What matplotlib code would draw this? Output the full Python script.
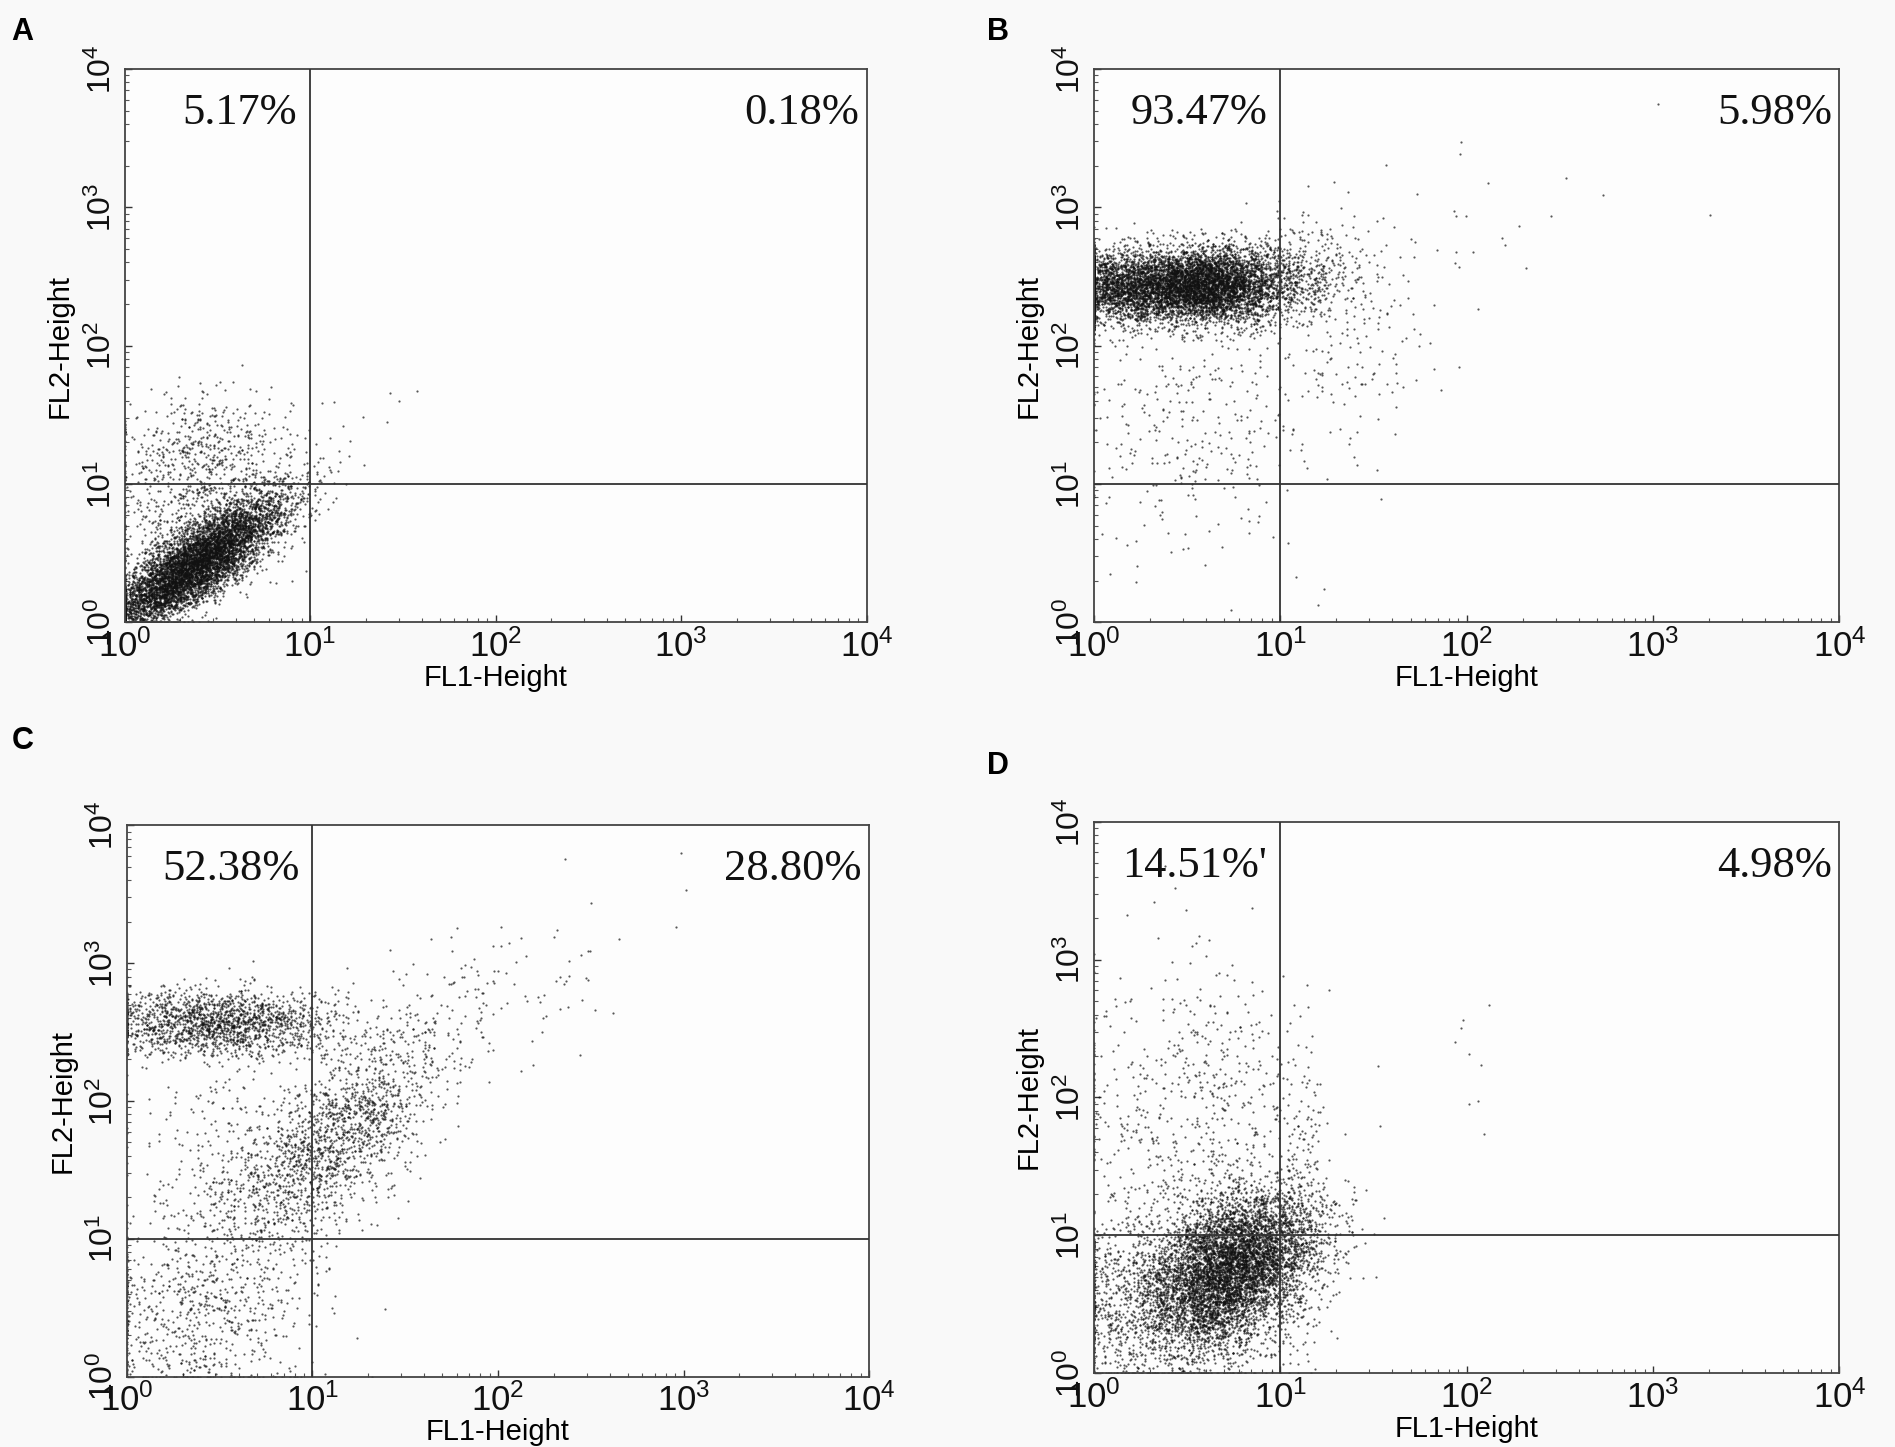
import matplotlib
matplotlib.use('Agg')
import matplotlib.pyplot as plt
import numpy as np

plt.rcParams['font.family'] = ['Liberation Sans', 'DejaVu Sans']
plt.rcParams['mathtext.fontset'] = 'custom'
plt.rcParams['mathtext.rm'] = 'Liberation Sans'
plt.rcParams['mathtext.it'] = 'Liberation Sans'

# quadrant percentages (upper-left, upper-right) per panel
panels = ['A', 'B', 'C', 'D']
ul_pct = ['5.17%', '93.47%', '52.38%', "14.51%'"]
ur_pct = ['0.18%', '5.98%', '28.80%', '4.98%']
gate_x = 10
gate_y = 10
tick_vals = [1, 10, 100, 1000, 10000]
tick_labels = ['$10^0$', '$10^1$', '$10^2$', '$10^3$', '$10^4$']

# event populations, in log10 units:
# count, mean log FL1, mean log FL2, sd log FL1, sd log FL2, correlation
pop_A_n = [6500, 450, 450, 12]
pop_A_mx = [0.38, 0.45, 0.35, 1.25]
pop_A_my = [0.42, 1.25, 0.80, 1.40]
pop_A_sx = [0.24, 0.25, 0.25, 0.20]
pop_A_sy = [0.25, 0.22, 0.30, 0.30]
pop_A_r = [0.82, 0.0, 0.0, 0.7]

pop_B_n = [5000, 2500, 400, 300, 150, 12]
pop_B_mx = [0.30, 0.65, 1.12, 0.55, 1.45, 2.30]
pop_B_my = [2.42, 2.45, 2.50, 1.40, 2.10, 3.00]
pop_B_sx = [0.35, 0.20, 0.18, 0.30, 0.30, 0.40]
pop_B_sy = [0.13, 0.14, 0.20, 0.45, 0.45, 0.25]
pop_B_r = [0.0, 0.0, 0.0, 0.0, 0.2, 0.0]

pop_C_n = [1700, 1500, 700, 500, 120]
pop_C_mx = [0.50, 1.15, 0.35, 0.65, 1.80]
pop_C_my = [2.57, 1.75, 0.45, 1.40, 2.65]
pop_C_sx = [0.32, 0.28, 0.30, 0.30, 0.45]
pop_C_sy = [0.12, 0.40, 0.35, 0.45, 0.40]
pop_C_r = [0.0, 0.7, 0.0, 0.0, 0.5]

pop_D_n = [5500, 1800, 600, 150, 10]
pop_D_mx = [0.76, 0.40, 0.55, 1.10, 1.80]
pop_D_my = [0.78, 0.50, 1.90, 1.40, 2.30]
pop_D_sx = [0.22, 0.30, 0.30, 0.10, 0.30]
pop_D_sy = [0.26, 0.33, 0.55, 0.55, 0.30]
pop_D_r = [0.3, 0.0, 0.0, 0.0, 0.0]

pops = {
    'A': (pop_A_n, pop_A_mx, pop_A_my, pop_A_sx, pop_A_sy, pop_A_r),
    'B': (pop_B_n, pop_B_mx, pop_B_my, pop_B_sx, pop_B_sy, pop_B_r),
    'C': (pop_C_n, pop_C_mx, pop_C_my, pop_C_sx, pop_C_sy, pop_C_r),
    'D': (pop_D_n, pop_D_mx, pop_D_my, pop_D_sx, pop_D_sy, pop_D_r),
}

# axes rectangles (figure fractions)
rects = {
    'A': [0.0657, 0.5699, 0.3916, 0.3825],
    'B': [0.5772, 0.5699, 0.3935, 0.3825],
    'C': [0.0670, 0.0487, 0.3916, 0.3809],
    'D': [0.5772, 0.0511, 0.3935, 0.3809],
}
letter_pos = {'A': (0.006, 0.988), 'B': (0.521, 0.988),
              'C': (0.006, 0.498), 'D': (0.521, 0.481)}

rng = np.random.default_rng(7)


def events(spec):
    n, mx, my, sx, sy, r = spec
    xs, ys = [], []
    for i in range(len(n)):
        cov = [[sx[i] ** 2, r[i] * sx[i] * sy[i]],
               [r[i] * sx[i] * sy[i], sy[i] ** 2]]
        p = rng.multivariate_normal([mx[i], my[i]], cov, n[i])
        xs.append(p[:, 0])
        ys.append(p[:, 1])
    lx = np.clip(np.concatenate(xs), 0, 4)
    ly = np.clip(np.concatenate(ys), 0, 4)
    return 10 ** lx, 10 ** ly


fig = plt.figure(figsize=(18.95, 14.47), dpi=100, facecolor='#f9f9f9')

for k, name in enumerate(panels):
    ax = fig.add_axes(rects[name])
    ax.set_facecolor('#fdfdfd')
    x, y = events(pops[name])
    ax.scatter(x, y, s=2.5, c='#111111', alpha=0.7, linewidths=0, zorder=2)

    ax.set_xscale('log')
    ax.set_yscale('log')
    ax.set_xlim(1, 10000)
    ax.set_ylim(1, 10000)

    # quadrant gates
    ax.axvline(gate_x, color='#333333', lw=1.3, zorder=3)
    ax.axhline(gate_y, color='#333333', lw=1.3, zorder=3)

    ax.set_xticks(tick_vals)
    ax.set_xticklabels(tick_labels, fontsize=25)
    ax.set_yticks(tick_vals)
    ax.set_yticklabels(tick_labels, fontsize=23, rotation=90, va='center')
    ax.tick_params(axis='both', which='major', direction='in', length=5,
                   width=1, colors='#333333', labelcolor='#111111')
    ax.tick_params(axis='x', which='major', pad=5)
    ax.tick_params(axis='y', which='major', pad=5)
    ax.tick_params(axis='both', which='minor', direction='in', length=3,
                   width=0.8, colors='#555555')
    for sp in ax.spines.values():
        sp.set_color('#444444')
        sp.set_linewidth(1.3)

    ax.set_xlabel('FL1-Height', fontsize=21, labelpad=0)
    ax.set_ylabel('FL2-Height', fontsize=21, labelpad=9)

    tr = ax.get_xaxis_transform()
    ax.text(10 ** 0.93, 0.90, ul_pct[k], transform=tr, ha='right',
            va='baseline', fontsize=32, family='Liberation Serif',
            color='#111111', zorder=4)
    ax.text(10 ** 3.96, 0.90, ur_pct[k], transform=tr, ha='right',
            va='baseline', fontsize=32, family='Liberation Serif',
            color='#111111', zorder=4)

    fig.text(letter_pos[name][0], letter_pos[name][1], name, fontsize=22,
             fontweight='bold', ha='left', va='top')

fig.savefig('out.png', dpi=100, facecolor=fig.get_facecolor())
